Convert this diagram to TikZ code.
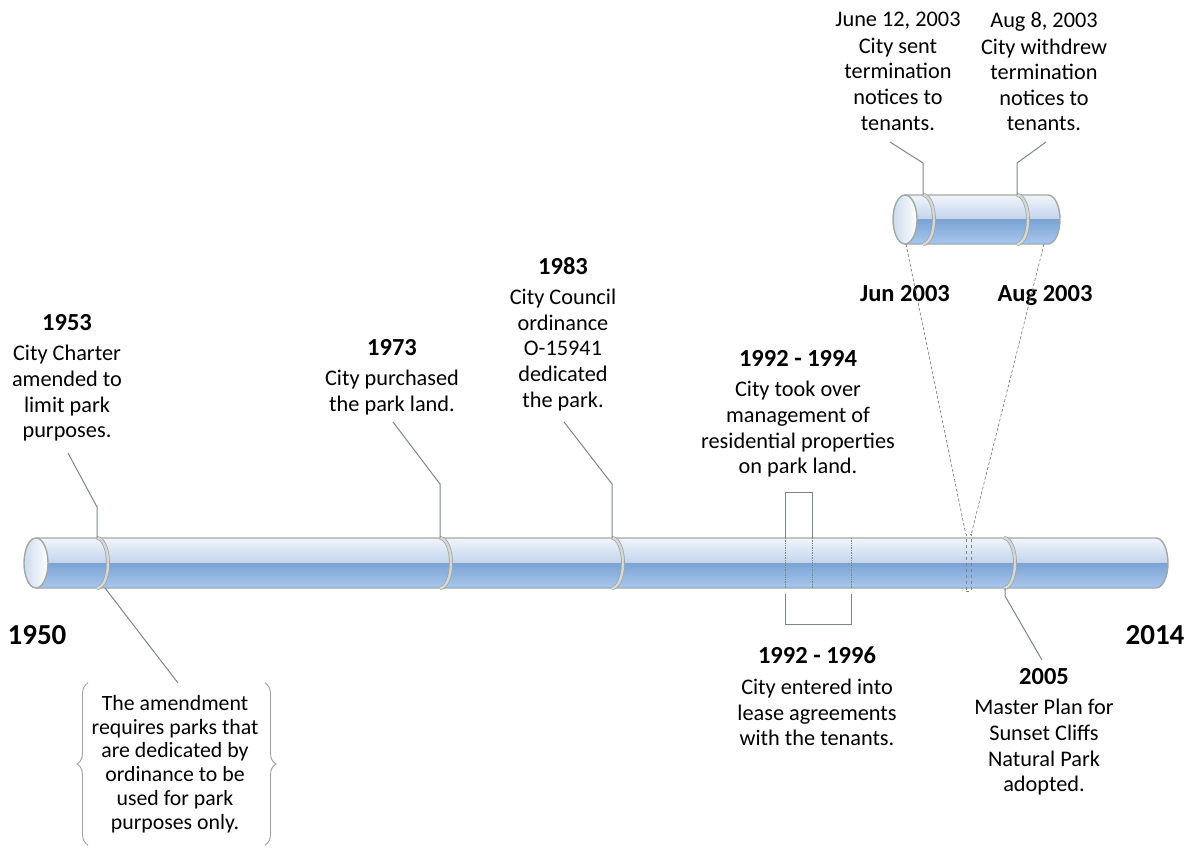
\documentclass[tikz,border=0pt]{standalone}
\usepackage{fontspec}
\setmainfont{Carlito}
\usetikzlibrary{positioning}
\usetikzlibrary{decorations.pathreplacing}

\definecolor{TubeTop}{HTML}{F1F5FB}
\definecolor{TubeMid}{HTML}{C1D4ED}
\definecolor{TubeLow}{HTML}{7BA3D5}
\definecolor{TubeBot}{HTML}{A9C7EC}
\definecolor{TubeEdge}{HTML}{A2A8A4}
\definecolor{CapBlue}{HTML}{CCDBEE}
\definecolor{RingFill}{HTML}{D4D7D4}
\definecolor{RingEdge}{HTML}{9CA29E}
\definecolor{LineGray}{HTML}{7D8782}

% tube: left end, right end, axis, half height
\newcommand{\drawtube}[4]{%
  \begin{scope}
    \clip ({#1},{#3-#4}) -- ({#2},{#3-#4})
      arc[start angle=-90, end angle=90, x radius=12, y radius=#4]
      -- ({#1},{#3+#4}) -- cycle;
    \shade[top color=TubeTop, bottom color=TubeMid] ({#1-20},{#3-#4}) rectangle ({#2+20},{#3});
    \shade[top color=TubeLow, bottom color=TubeBot] ({#1-20},{#3}) rectangle ({#2+20},{#3+#4});
  \end{scope}
  \draw[tubeedge] ({#1},{#3-#4}) -- ({#2},{#3-#4})
    arc[start angle=-90, end angle=90, x radius=12, y radius=#4] -- ({#1},{#3+#4});
  \shade[tubeedge, left color=CapBlue, right color=white] ({#1},{#3}) ellipse[x radius=12, y radius=#4];
}
% ring: x, axis, half height
\newcommand{\tubering}[3]{%
  \draw[ringline] ({#1},{#2-#3}) arc[start angle=-90, end angle=90, x radius=11, y radius=#3];
}
\newcommand{\yeartitle}[1]{{\fontsize{24.5}{25.6}\selectfont\bfseries #1}}

\begin{document}
\begin{tikzpicture}
  [x=1pt, y=-1pt,
   event/.style={align=center, anchor=north, inner sep=0pt,
     font=\fontsize{22.3}{25.6}\selectfont},
   year/.style={anchor=base, inner sep=0pt, font=\fontsize{24.5}{27}\selectfont\bfseries},
   endyear/.style={anchor=base, inner sep=0pt, font=\fontsize{29}{32}\selectfont\bfseries},
   tubeedge/.style={draw=TubeEdge, line width=1.4pt},
   ringline/.style={draw=RingEdge, double=RingFill, double distance=2.4pt, line width=0.7pt},
   callout/.style={draw=LineGray, line width=1pt},
   bracket/.style={draw=LineGray, line width=0.9pt},
   inside/.style={draw=LineGray, line width=0.7pt, densely dotted},
   zoomline/.style={draw=LineGray, line width=0.7pt, dash pattern=on 3pt off 2pt},
   notebrace/.style={draw=RingEdge, line width=0.9pt, decorate, decoration={brace, amplitude=11pt}}]
  \useasboundingbox (0,0) rectangle (1188,848);

  % the two tubes
  \drawtube{36}{1156}{563}{25}
  \drawtube{905}{1048}{219.5}{24.5}
  \tubering{97}{563}{25}
  \tubering{440}{563}{25}
  \tubering{612}{563}{25}
  \tubering{1004}{563}{25}
  \tubering{923}{219.5}{24.5}
  \tubering{1017}{219.5}{24.5}

  % ends of the time line
  \node (y1950) [endyear] at (37,644) {1950};
  \node (y2014) [endyear] at (1155,644) {2014};

  % events
  \node (t1953) [event] at (67,314) {\yeartitle{1953}\\[5pt]City Charter\\amended to\\limit park\\purposes.};
  \node (t1973) [event] at (392,339) {\yeartitle{1973}\\[5pt]City purchased\\the park land.};
  \node (t1983) [event] at (563,257) {\yeartitle{1983}\\[5pt]City Council\\ordinance\\O-15941\\dedicated\\the park.};
  \node (t1992a) [event] at (798,350) {\yeartitle{1992 - 1994}\\[5pt]City took over\\management of\\residential properties\\on park land.};
  \node (t1992b) [event] at (817,647) {\yeartitle{1992 - 1996}\\[5pt]City entered into\\lease agreements\\with the tenants.};
  \node (t2005) [event] at (1044,668) {\yeartitle{2005}\\[5pt]Master Plan for\\Sunset Cliffs\\Natural Park\\adopted.};
  \node (tjun) [event] at (898,12) {June 12, 2003\\[1pt]City sent\\termination\\notices to\\tenants.};
  \node (taug) [event] at (1044,12) {Aug 8, 2003\\[1pt]City withdrew\\termination\\notices to\\tenants.};
  \node (ljun) [year] at (905,301) {Jun 2003};
  \node (laug) [year] at (1045,301) {Aug 2003};
  \node (note) [event, font=\fontsize{21.8}{23.8}\selectfont] at (175,695)
    {The amendment\\requires parks that\\are dedicated by\\ordinance to be\\used for park\\purposes only.};
  \draw[notebrace] (88,845) -- (88,683);
  \draw[notebrace] (265,683) -- (265,845);

  % callouts
  \coordinate (r1953) at (97,538);
  \coordinate (e1953) at (68,453);
  \coordinate (s1953) at (105,588);
  \coordinate (enote) at (178,683);
  \coordinate (r1973) at (440,538);
  \coordinate (e1973) at (393,422);
  \coordinate (r1983) at (612,538);
  \coordinate (e1983) at (564,422);
  \coordinate (r2005) at (1005,588);
  \coordinate (e2005) at (1042,660);
  \coordinate (rjun) at (923,195);
  \coordinate (ejun) at (890,142);
  \coordinate (raug) at (1017,195);
  \coordinate (eaug) at (1046,142);
  \draw[callout] (r1953) -- ++(0,-31) -- (e1953);
  \draw[callout] (s1953) -- (enote);
  \draw[callout] (r1973) -- ++(0,-54) -- (e1973);
  \draw[callout] (r1983) -- ++(0,-54) -- (e1983);
  \draw[callout] (r2005) -- ++(0,8) -- (e2005);
  \draw[callout] (rjun) -- ++(0,-32) -- (ejun);
  \draw[callout] (raug) -- ++(0,-32) -- (eaug);

  % periods
  \draw[bracket] (785,538) -- (785,492) -- (812,492) -- (812,538);
  \draw[bracket] (785,594) -- (785,624) -- (851,624) -- (851,594);
  \draw[inside] (785,538) -- (785,588);
  \draw[inside] (812,538) -- (812,588);
  \draw[inside] (851,538) -- (851,588);

  % zoomed window
  \node (zwin) [draw=LineGray, dashed, line width=0.7pt, inner sep=0pt,
    minimum width=5pt, minimum height=57pt] at (968.5,562.5) {};
  \coordinate (zl) at (906,244);
  \coordinate (zr) at (1044,244);
  \draw[zoomline] (zl) -- (zwin.north west);
  \draw[zoomline] (zr) -- (zwin.north east);
\end{tikzpicture}
\end{document}
